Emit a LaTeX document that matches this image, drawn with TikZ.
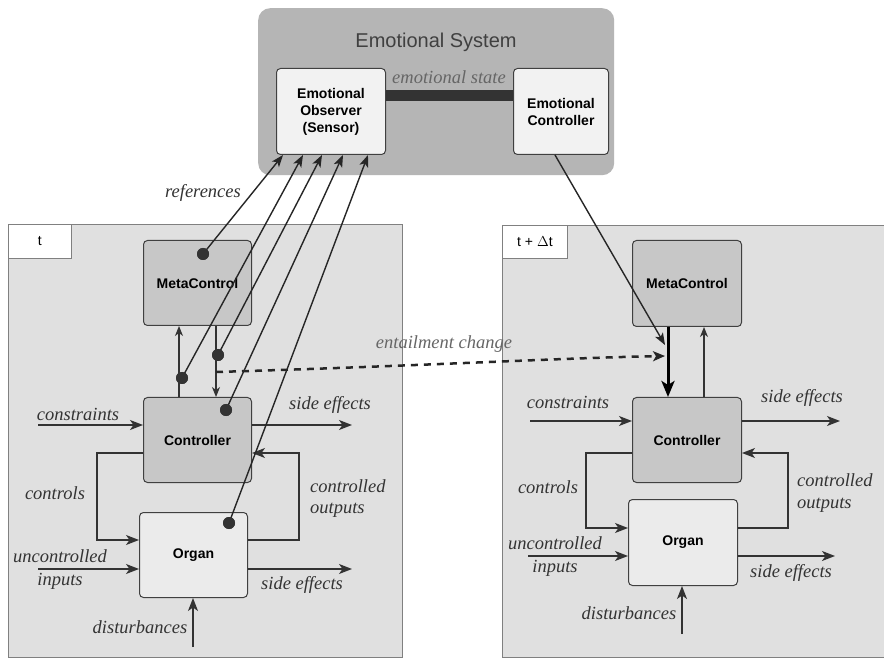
\documentclass[tikz,border=0pt]{standalone}
\usepackage{fontspec}
\setsansfont{Liberation Sans}
\newfontfamily\lblfont{Liberation Serif}
\usetikzlibrary{arrows.meta,calc}
\begin{document}
\begin{tikzpicture}[x=1pt,y=-1pt,
  box/.style={draw=black!75, rounded corners=4pt, inner sep=0pt, anchor=north west, align=center, line width=1pt,
    font=\sffamily\bfseries\fontsize{14}{17}\selectfont},
  mcbox/.style={box, fill=black!22},
  ogbox/.style={box, fill=black!8},
  eobox/.style={box, fill=black!5},
  panel/.style={draw=black!50, fill=black!12, anchor=north west, inner sep=0pt, line width=0.8pt},
  tagbox/.style={draw=black!50, fill=white, anchor=north west, inner sep=0pt, line width=0.8pt,
    font=\sffamily\fontsize{14}{16}\selectfont},
  lbl/.style={font=\lblfont\itshape\fontsize{18.5}{22}\selectfont, text=black!80, inner sep=0pt},
  glbl/.style={font=\lblfont\itshape\fontsize{18.5}{22}\selectfont, text=black!60, inner sep=0pt},
  sig/.style={draw=black!80, line width=1.3pt, -{Stealth[length=13pt,width=10pt,inset=3.5pt]}},
  smallsig/.style={draw=black!80, line width=1.2pt, -{Stealth[length=10pt,width=8pt,inset=3pt]}},
  refline/.style={draw=black!85, line width=1.4pt, -{Stealth[length=12pt,width=9pt,inset=3pt]}},
  dotn/.style={circle, fill=black!80, inner sep=0pt, minimum size=12pt}
]
\useasboundingbox[fill=white] (0,0) rectangle (884,660);

% Emotional system
\node[anchor=north west, fill=black!29, rounded corners=12pt, minimum width=356pt, minimum height=167pt, inner sep=0pt] (es) at (258,8) {};
\node[font=\sffamily\fontsize{20}{24}\selectfont, text=black!75] (est) at (436,42) {Emotional System};
\node[eobox, minimum width=109pt, minimum height=86pt] (eo) at (276,68) {Emotional\\Observer\\(Sensor)};
\node[eobox, minimum width=95pt, minimum height=86pt] (ec) at (513,68) {Emotional\\Controller};
\draw[line width=11pt, draw=black!80] ($(eo.north east)+(0,28)$) -- ($(ec.north west)+(0,28)$);
\node[glbl] (est2) at (449,77) {emotional state};

% Panels
\node[panel, minimum width=394pt, minimum height=433pt] (lp) at (8,224) {};
\node[tagbox, minimum width=63pt, minimum height=34pt] (lt) at (8,224) {t};
\node[panel, minimum width=382pt, minimum height=432pt] (rp) at (502,225) {};
\node[tagbox, minimum width=65pt, minimum height=33pt] (rt) at (502,225) {t + $\Delta$t};

% Left boxes
\node[mcbox, minimum width=108pt, minimum height=85pt] (mc1) at (143,240) {MetaControl};
\node[mcbox, minimum width=108pt, minimum height=85pt] (ct1) at (143,397) {Controller};
\node[ogbox, minimum width=108pt, minimum height=85pt] (og1) at (139,512) {Organ};
% Right boxes
\node[mcbox, minimum width=109pt, minimum height=86pt] (mc2) at (632,240) {MetaControl};
\node[mcbox, minimum width=109pt, minimum height=85pt] (ct2) at (632,397) {Controller};
\node[ogbox, minimum width=109pt, minimum height=86pt] (og2) at (628,499) {Organ};

% ---- Left signals
\coordinate (cin1) at (38,425);
\coordinate (se1a) at (352,425);
\coordinate (ctl1a) at (97,453);
\coordinate (ctl1b) at (97,540);
\coordinate (co1a) at (299,540);
\coordinate (co1b) at (299,453);
\coordinate (ui1) at (38,569);
\coordinate (se1b) at (352,569);
\coordinate (d1) at (193,647);
\draw[sig] (cin1) -- (cin1 -| ct1.west);
\draw[sig] (se1a -| ct1.east) -- (se1a);
\draw[sig] (ctl1a -| ct1.west) -- (ctl1a) -- (ctl1b) -- (ctl1b -| og1.west);
\draw[sig] (co1a -| og1.east) -- (co1a) -- (co1b) -- (co1b -| ct1.east);
\draw[sig] (ui1) -- (ui1 -| og1.west);
\draw[sig] (se1b -| og1.east) -- (se1b);
\draw[sig] (d1) -- (d1 |- og1.south);
\draw[smallsig] ($(ct1.north west)+(36,0)$) -- ($(mc1.south west)+(36,0)$);
\draw[smallsig] ($(mc1.south west)+(73,0)$) -- ($(ct1.north west)+(73,0)$);

\node[lbl] (l1) at (78,414) {constraints};
\node[lbl] (l2) at (330,405) {side effects};
\node[lbl] (l3) at (55,493) {controls};
\node[lbl, anchor=west] (l4) at (310,486) {controlled};
\node[lbl, anchor=west] (l5) at (310,510) {outputs};
\node[lbl] (l6) at (60,556) {uncontrolled};
\node[lbl] (l7) at (60,581) {inputs};
\node[lbl] (l8) at (302,585) {side effects};
\node[lbl] (l9) at (140,627) {disturbances};

% ---- Right signals
\coordinate (cin2) at (530,421);
\coordinate (se2a) at (840,421);
\coordinate (ctl2a) at (586,453);
\coordinate (ctl2b) at (586,528);
\coordinate (co2a) at (788,528);
\coordinate (co2b) at (788,453);
\coordinate (ui2) at (528,556);
\coordinate (se2b) at (835,556);
\coordinate (d2) at (682,634);
\draw[sig] (cin2) -- (cin2 -| ct2.west);
\draw[sig] (se2a -| ct2.east) -- (se2a);
\draw[sig] (ctl2a -| ct2.west) -- (ctl2a) -- (ctl2b) -- (ctl2b -| og2.west);
\draw[sig] (co2a -| og2.east) -- (co2a) -- (co2b) -- (co2b -| ct2.east);
\draw[sig] (ui2) -- (ui2 -| og2.west);
\draw[sig] (se2b -| og2.east) -- (se2b);
\draw[sig] (d2) -- (d2 |- og2.south);
\draw[smallsig] ($(ct2.north west)+(72,0)$) -- ($(mc2.south west)+(72,0)$);
\draw[draw=black, line width=3pt, -{Stealth[length=16pt,width=13pt,inset=4pt]}] ($(mc2.south west)+(36,0)$) -- ($(ct2.north west)+(36,0)$);

\node[lbl] (r1) at (568,402) {constraints};
\node[lbl] (r2) at (802,398) {side effects};
\node[lbl] (r3) at (548,487) {controls};
\node[lbl, anchor=west] (r4) at (797,480) {controlled};
\node[lbl, anchor=west] (r5) at (797,505) {outputs};
\node[lbl] (r6) at (555,543) {uncontrolled};
\node[lbl] (r7) at (555,568) {inputs};
\node[lbl] (r8) at (791,573) {side effects};
\node[lbl] (r9) at (629,613) {disturbances};

% entailment change
\coordinate (ent1) at (216,372);
\coordinate (ent2) at (665,356);
\draw[draw=black!85, line width=2.5pt, dash pattern=on 7pt off 6pt, -{Stealth[length=12pt,width=10pt,inset=3pt]}] (ent1) .. controls (420,366) and (560,358) .. (ent2);
\node[glbl] (entl) at (444,344) {entailment change};

% Emotional controller to right metacontrol
\coordinate (ecend) at (665,345);
\draw[refline] ($(ec.south west)+(42,0)$) -- (ecend);

% references
\node[dotn] (dm1) at (203,254) {};
\node[dotn] (dd1) at (218,355) {};
\node[dotn] (du1) at (182,378) {};
\node[dotn] (dc1) at (226,410) {};
\node[dotn] (do1) at (229,523) {};
\draw[refline] (dm1.center) -- ($(eo.south west)+(7,0)$);
\draw[refline] (du1.center) -- ($(eo.south west)+(27,0)$);
\draw[refline] (dd1.center) -- ($(eo.south west)+(46,0)$);
\draw[refline] (dc1.center) -- ($(eo.south west)+(67,0)$);
\draw[refline] (do1.center) -- ($(eo.south west)+(92,0)$);
\node[dotn] at (dm1) {};
\node[dotn] at (dd1) {};
\node[dotn] at (du1) {};
\node[dotn] at (dc1) {};
\node[dotn] at (do1) {};
\node[lbl] (refl) at (203,193) {references};
\end{tikzpicture}
\end{document}
